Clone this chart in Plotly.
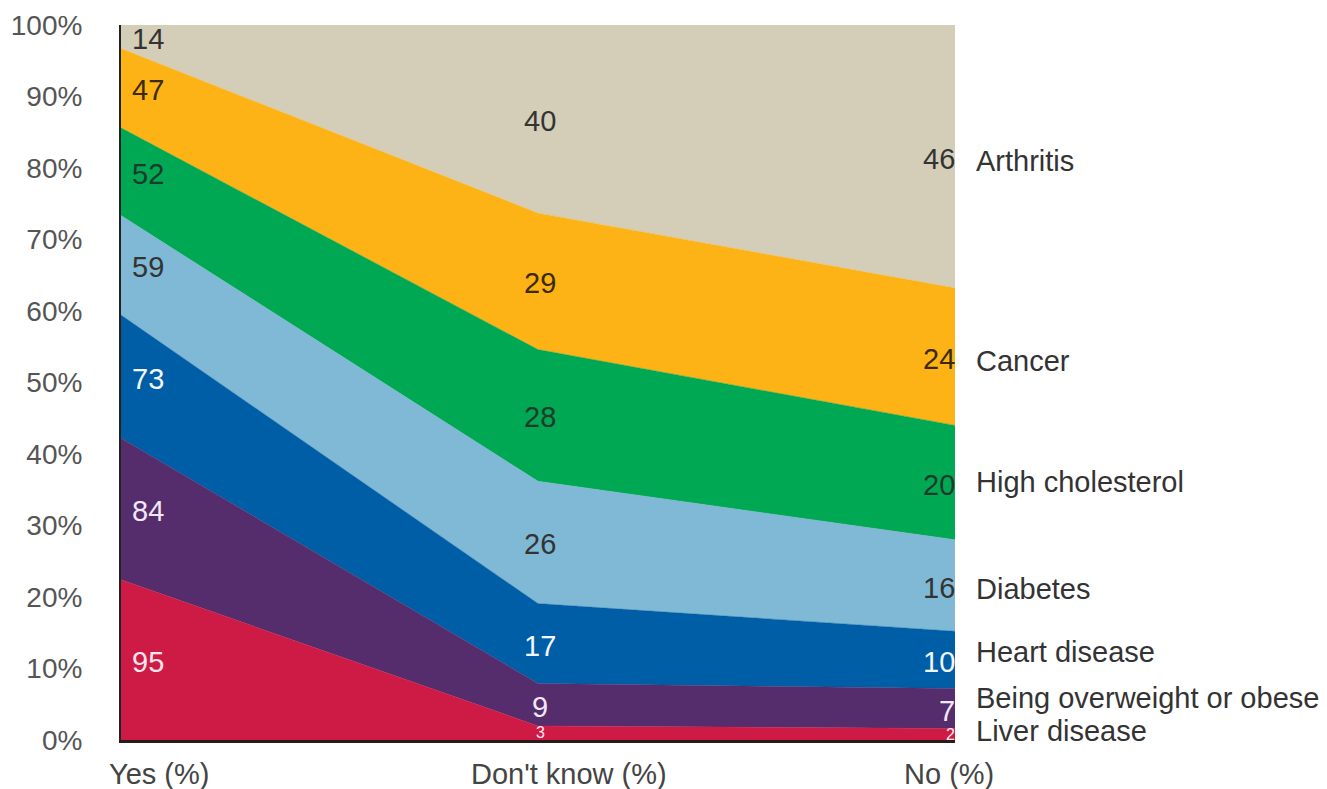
import numpy as np
import plotly.graph_objects as go

categories = ["Yes (%)", "Don't know (%)", "No (%)"]

# bottom to top
series = ["Liver disease", "Being overweight or obese", "Heart disease",
          "Diabetes", "High cholesterol", "Cancer", "Arthritis"]
liver = [95, 3, 2]
overweight = [84, 9, 7]
heart = [73, 17, 10]
diabetes = [59, 26, 16]
cholesterol = [52, 28, 20]
cancer = [47, 29, 24]
arthritis = [14, 40, 46]

values = [liver, overweight, heart, diabetes, cholesterol, cancer, arthritis]
colors = ["#CE1B46", "#552C6C", "#005EA6", "#80B9D5", "#00A854", "#FDB315", "#D4CEB8"]
text_colors = ["#FFE6EE", "#F0E8F8", "#F2F8FF", "#333333", "#1F3A2A", "#3B2A00", "#333333"]

fig = go.Figure()
for name, vals, col in zip(series, values, colors):
    fig.add_trace(go.Scatter(
        x=categories, y=vals, name=name, mode="lines",
        stackgroup="one", groupnorm="percent",
        line=dict(width=0.5, color=col), fillcolor=col,
        hoverinfo="skip"
    ))

# percentage positions of each band (for the value labels)
arr = np.array(values, dtype=float)
pct = arr / arr.sum(axis=0) * 100
top = np.cumsum(pct, axis=0)
mid = top - pct / 2

annotations = []
font = "Liberation Sans, Arial, sans-serif"
for i, name in enumerate(series):
    for j, cat in enumerate(categories):
        small = pct[i, j] < 3
        if j == 0:
            xanchor, xshift = "left", 9
        elif j == 1:
            xanchor, xshift = "center", 2
        else:
            xanchor, xshift = "right", 2
        annotations.append(dict(
            x=cat, y=mid[i, j], xref="x", yref="y", text=str(values[i][j]),
            showarrow=False, xanchor=xanchor, xshift=xshift,
            yshift=-2 if not small else 0,
            font=dict(family=font, size=16 if small else 29, color=text_colors[i])
        ))

# series labels on the right, nudged apart at the bottom
nudge = [3, 11, 8, -3, 1, -4, -4]
for i, name in enumerate(series):
    annotations.append(dict(
        x=1.0, y=mid[i, 2], xref="paper", yref="y", text=name,
        showarrow=False, xanchor="left", xshift=19, yshift=nudge[i],
        font=dict(family=font, size=29, color="#333333")
    ))

# category labels under the axis
label_shift = [38, 31, -6]
for cat, sh in zip(categories, label_shift):
    annotations.append(dict(
        x=cat, y=0, xref="x", yref="y", text=cat, showarrow=False,
        yanchor="middle", yshift=-34, xshift=sh,
        font=dict(family=font, size=29, color="#444444")
    ))

fig.update_layout(
    width=1319, height=781,
    margin=dict(l=113, r=372, t=17, b=49, autoexpand=False),
    paper_bgcolor="white", plot_bgcolor="white",
    showlegend=False,
    annotations=annotations,
    xaxis=dict(type="category", range=[0, 2], showticklabels=False,
               showgrid=False, zeroline=False, showline=True, automargin=False,
               linecolor="#2a1a1a", linewidth=2.5, ticks=""),
    yaxis=dict(range=[0, 100], dtick=10, ticksuffix="%", showgrid=False,
               zeroline=False, showline=True, linecolor="#222222", linewidth=2,
               ticks="", ticklabelstandoff=31, automargin=False,
               tickfont=dict(family=font, size=28, color="#555555")),
)

fig.write_html("out.html")
